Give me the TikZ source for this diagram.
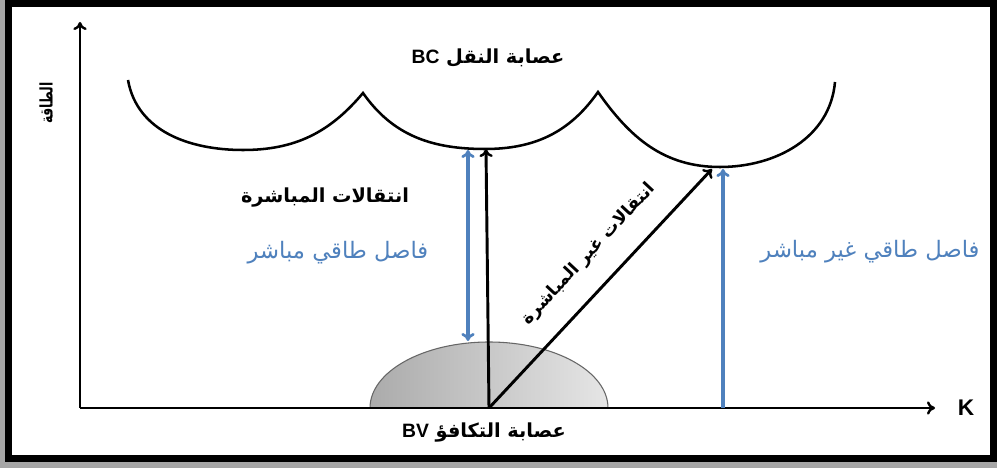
\documentclass[tikz,border=0pt]{standalone}
\usepackage{fontspec}
\setmainfont{Liberation Sans}
\newfontfamily\arabicfont[Script=Arabic]{DejaVu Sans}
\newfontfamily\latinfont{Liberation Sans}
\TeXXeTstate=1
\usetikzlibrary{arrows.meta}
\definecolor{gapblue}{RGB}{79,129,189}

\begin{document}
\begin{tikzpicture}[x=0.75pt, y=0.75pt]
        \tikzset{every node/.style = {inner sep=0pt}}
        \tikzset{blacklabel/.style = {font=\arabicfont\bfseries\fontsize{14.5}{17}\selectfont}}
        \tikzset{bluelabel/.style = {text=gapblue, font=\arabicfont\fontsize{17}{20}\selectfont}}
        \tikzset{tip/.style = {-{To[length=6pt, width=10pt, line width=1.8pt]}}}
        \tikzset{axis/.style = {line width=2.2pt, tip}}
        \tikzset{transition/.style = {line width=2.2pt, tip}}
        \tikzset{gap/.style = {gapblue, line width=2.4pt, -{To[length=6pt, width=10pt, line width=2pt]}}}
        \tikzset{band/.style = {line width=1.9pt}}

        \useasboundingbox (0,0) rectangle (997,468);
        \fill[black!35] (0,0) rectangle (997,468);
        \fill[white] (5,6) rectangle (997,468);
        \draw[line width=5.25pt] (8.5,9.5) rectangle (993.5,464.5);

        \coordinate (o) at (80,60);
        \coordinate (ytip) at (80,446);
        \coordinate (xtip) at (935,60);

        \coordinate (v) at (489,60);
        \coordinate (c1) at (486,319);
        \coordinate (c3) at (712,299);
        \coordinate (g1t) at (468,318);
        \coordinate (g1b) at (468,127);
        \coordinate (g2t) at (723,299);
        \coordinate (g2b) at (723,60);

        \begin{scope}
            \clip (360,60) rectangle (620,140);
            \shade[left color=black!33, right color=black!10, draw=black!60, line width=0.8pt]
                (v) ellipse [x radius=119, y radius=66];
        \end{scope}

        \draw[band] (128,388) to[out=-80, in=180] (243,318) to[out=0, in=-130] (363,375)
            to[out=-55, in=180] (485,319) to[out=0, in=-125] (598,376)
            to[out=-55, in=180] (720,301) to[out=0, in=-95] (835,386);

        \draw[axis] (o) -- (ytip);
        \draw[axis] (o) -- (xtip);

        \draw[transition] (v) -- (c1);
        \draw[transition] (v) -- (c3);
        \draw[gap, {To[length=6pt, width=10pt, line width=2pt]}-{To[length=6pt, width=10pt, line width=2pt]}] (g1b) -- (g1t);
        \draw[gap] (g2b) -- (g2t);

        \node[font=\arabicfont\bfseries\fontsize{13}{15}\selectfont, rotate=90, xscale=0.72] (energy) at (46,365) {\beginR الطاقة\endR};
        \node[blacklabel] (bc) at (488,410) {\beginR عصابة النقل {\beginL\latinfont\bfseries BC\endL}\endR};
        \node[blacklabel] (bv) at (484,35) {\beginR عصابة التكافؤ {\beginL\latinfont\bfseries BV\endL}\endR};
        \node[blacklabel] (direct) at (325,270) {\beginR انتقالات المباشرة\endR};
        \node[font=\arabicfont\bfseries\fontsize{13}{15}\selectfont, rotate=47] (indirect) at (589,214) {\beginR انتقالات غير المباشرة\endR};
        \node[bluelabel] (gapd) at (338,215) {\beginR فاصل طاقي مباشر\endR};
        \node[bluelabel] (gapi) at (870,216) {\beginR فاصل طاقي غير مباشر\endR};
        \node[font=\latinfont\bfseries\fontsize{17}{20}\selectfont] (k) at (966,60) {K};

    \end{tikzpicture}
\end{document}
